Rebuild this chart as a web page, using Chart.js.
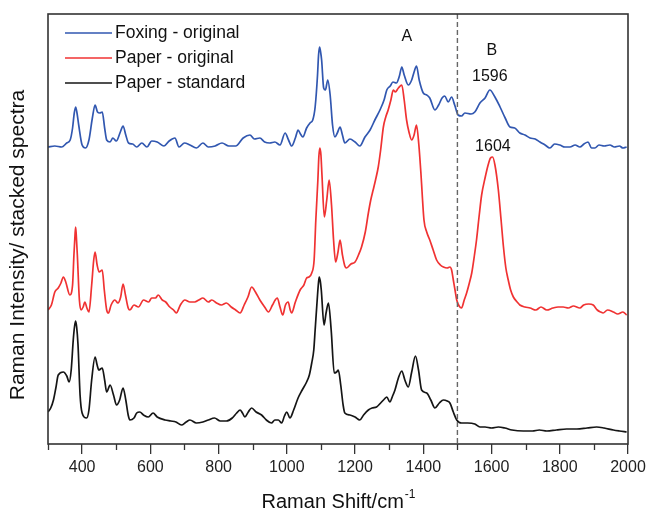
<!DOCTYPE html>
<html>
<head>
<meta charset="utf-8">
<script src="https://cdn.jsdelivr.net/npm/chart.js@4.4.1/dist/chart.umd.min.js"></script>
<style>
  body { margin: 0; background: #fff; }
  #wrap { width: 646px; height: 511px; }
</style>
</head>
<body>
<div id="wrap"><canvas id="raman" width="646" height="511"></canvas></div>
<script>
// Raman shift (cm-1) and intensity (arbitrary, stacked)
const shiftFoxing = [300,320,340,355,365,372,377,381,385,390,400,410,420,430,438,445,452,459,466,472,482,490,500,512,520,528,536,548,560,575,590,604,620,640,655,672,684,700,716,735,754,770,790,810,830,850,872,892,905,921,935,950,965,980,995,1005,1014,1025,1033,1040,1047,1058,1068,1076,1083,1090,1093,1096,1099,1102,1108,1113,1120,1127,1134,1141,1148,1156,1163,1170,1185,1200,1214,1229,1244,1258,1273,1285,1293,1303,1311,1321,1330,1337,1344,1356,1366,1373,1380,1388,1400,1410,1419,1434,1445,1455,1463,1473,1483,1492,1502,1512,1522,1540,1551,1566,1581,1595,1610,1625,1640,1654,1668,1683,1698,1713,1728,1742,1757,1771,1785,1800,1815,1830,1845,1859,1871,1883,1893,1903,1915,1930,1947,1960,1975,1985,1996];
const foxingOriginal = [297,298,297,301,304,316,331,337,331,319,299,296,304,326,339,332,331,332,316,304,302,306,303,312,318,309,301,300,297,301,297,303,302,298,303,306,297,301,299,296,301,297,298,301,298,298,306,309,305,306,302,301,302,299,311,304,298,306,314,310,307,316,321,324,337,369,389,397,392,384,356,354,364,349,319,307,311,317,309,301,305,302,298,307,314,324,334,344,354,358,362,361,368,377,369,359,364,372,378,364,351,349,346,334,339,346,348,342,347,339,329,328,331,330,332,341,346,354,347,337,326,317,316,311,309,306,305,302,299,296,300,299,297,297,299,297,300,302,296,296,299,298,299,297,298,296,297];

const shiftPaper = [300,310,320,330,338,345,352,364,372,376,379,381,383,386,392,397,403,408,414,420,428,434,438,444,450,459,465,472,477,485,496,505,513,520,527,535,540,552,565,580,595,604,615,623,635,645,657,668,676,688,701,716,730,742,754,770,780,794,808,823,837,850,863,875,886,897,908,921,935,946,958,966,972,980,988,996,1004,1010,1014,1025,1039,1050,1058,1065,1073,1080,1085,1091,1094,1097,1100,1103,1110,1117,1124,1131,1137,1143,1150,1156,1163,1170,1175,1188,1200,1210,1219,1230,1239,1246,1253,1260,1268,1275,1283,1290,1297,1305,1312,1318,1327,1337,1344,1351,1358,1366,1373,1380,1387,1393,1402,1410,1419,1429,1439,1450,1459,1470,1478,1483,1488,1493,1498,1505,1512,1520,1527,1535,1542,1550,1556,1564,1571,1581,1590,1597,1603,1610,1620,1628,1635,1642,1649,1656,1664,1675,1683,1698,1713,1730,1745,1762,1780,1795,1810,1825,1840,1859,1870,1885,1898,1910,1920,1927,1940,1957,1970,1985,1996];
const paperOriginal = [134,139,152,156,161,167,162,149,159,189,208,217,208,189,144,134,137,142,136,132,159,184,192,179,172,174,154,134,131,139,144,141,147,160,149,136,134,139,137,144,142,146,146,149,144,142,137,134,131,139,144,142,142,144,146,142,144,141,139,141,137,134,131,139,147,157,152,144,137,132,139,144,146,137,129,139,142,134,131,142,154,159,166,167,171,184,224,264,288,296,289,269,227,244,264,239,204,182,192,204,189,178,176,180,182,189,197,212,231,244,254,264,277,294,317,327,334,344,354,352,356,359,344,324,312,304,309,319,299,271,224,212,204,194,184,179,177,176,177,174,164,154,144,138,136,144,151,161,171,189,204,229,249,266,279,286,287,279,254,224,197,176,164,154,147,142,139,137,136,134,137,134,136,137,137,136,138,136,139,140,139,134,132,131,134,132,130,132,129];

const shiftStandard = [300,308,316,323,330,345,355,362,368,374,378,381,384,388,394,400,413,420,428,438,444,449,459,466,472,482,492,501,510,520,528,535,540,552,560,569,580,594,608,620,643,660,675,691,705,716,735,754,770,788,805,823,840,853,863,870,877,887,897,910,926,940,955,965,975,985,993,1000,1009,1020,1033,1045,1058,1066,1073,1079,1083,1090,1093,1095,1098,1101,1109,1115,1122,1130,1139,1146,1151,1158,1165,1170,1185,1200,1214,1225,1239,1250,1263,1275,1286,1293,1302,1310,1317,1327,1337,1346,1356,1366,1377,1386,1395,1410,1422,1434,1447,1459,1470,1478,1488,1498,1512,1530,1551,1566,1581,1600,1620,1639,1660,1693,1720,1740,1762,1790,1820,1850,1880,1908,1930,1957,1975,1996];
const paperStandard = [32,36,44,56,69,72,68,62,74,104,118,123,117,99,49,31,26,34,64,87,79,74,76,64,52,59,49,39,44,56,44,29,24,26,31,32,29,27,31,27,24,23,22,19,22,24,21,22,24,26,23,23,26,31,34,31,27,32,36,32,29,24,21,24,24,21,28,32,26,34,46,54,62,69,81,94,114,149,162,167,163,154,119,131,141,114,71,72,74,59,39,31,29,27,24,29,34,36,37,41,45,47,42,48,54,66,73,64,57,72,88,74,54,51,44,36,41,44,43,41,32,24,21,21,20,17,17,16,17,16,14,13,13,14,13,14,15,15,16,17,16,14,13,12];

const seriesNames = ['Foxing - original', 'Paper - original', 'Paper - standard'];
const seriesColors = ['#3157b0', '#f03232', '#151515'];
const majorTicks = [400, 600, 800, 1000, 1200, 1400, 1600, 1800, 2000];
const minorTicks = [300, 500, 700, 900, 1100, 1300, 1500, 1700, 1900];
const markerLine = 1500;
// peak labels: [text, shift, intensity]
const peakLabels = [['A', 1352, 407], ['B', 1601, 393], ['1596', 1595, 367], ['1604', 1604, 297]];

const FONT = '"Liberation Sans", Arial, Helvetica, sans-serif';

function toPoints(xs, ys) {
  return xs.map((x, i) => ({ x: x, y: ys[i] }));
}

// frame, minor ticks, marker line, legend, labels and axis titles
const decorations = {
  id: 'decorations',
  afterDatasetsDraw(chart) {
    const ctx = chart.ctx;
    const area = chart.chartArea;
    const xs = chart.scales.x;
    const ys = chart.scales.y;

    ctx.save();
    // dashed line at 1500
    const mx = xs.getPixelForValue(markerLine);
    ctx.strokeStyle = '#666';
    ctx.lineWidth = 1.4;
    ctx.setLineDash([5, 3]);
    ctx.beginPath();
    ctx.moveTo(mx, area.top);
    ctx.lineTo(mx, area.bottom);
    ctx.stroke();
    ctx.setLineDash([]);

    // frame
    ctx.strokeStyle = '#333';
    ctx.lineWidth = 1.6;
    ctx.strokeRect(area.left, area.top, area.right - area.left, area.bottom - area.top);

    // minor ticks
    ctx.lineWidth = 1.3;
    minorTicks.forEach(v => {
      const px = Math.round(xs.getPixelForValue(v)) + 0.5;
      ctx.beginPath();
      ctx.moveTo(px, area.bottom);
      ctx.lineTo(px, area.bottom + 6);
      ctx.stroke();
    });

    // legend
    ctx.font = '17.5px ' + FONT;
    ctx.textBaseline = 'middle';
    ctx.textAlign = 'left';
    seriesNames.forEach((name, i) => {
      const y = area.top + 19 + i * 25;
      ctx.strokeStyle = seriesColors[i];
      ctx.lineWidth = 1.6;
      ctx.beginPath();
      ctx.moveTo(area.left + 17, y);
      ctx.lineTo(area.left + 64, y);
      ctx.stroke();
      ctx.fillStyle = '#111';
      ctx.fillText(name, area.left + 67, y);
    });

    // peak labels
    ctx.font = '16px ' + FONT;
    ctx.textAlign = 'center';
    peakLabels.forEach(([t, x, y]) => {
      ctx.fillText(t, xs.getPixelForValue(x), ys.getPixelForValue(y));
    });

    // x title with superscript
    ctx.fillStyle = '#111';
    ctx.textBaseline = 'alphabetic';
    const main = 'Raman Shift/cm';
    ctx.font = '12px ' + FONT;
    const supW = ctx.measureText('-1').width;
    ctx.font = '20px ' + FONT;
    const mainW = ctx.measureText(main).width;
    const cx = (area.left + area.right) / 2;
    const startX = cx - (mainW + supW) / 2;
    ctx.textAlign = 'left';
    ctx.fillText(main, startX, 508);
    ctx.font = '12px ' + FONT;
    ctx.fillText('-1', startX + mainW + 1, 498);

    // y title
    ctx.font = '21px ' + FONT;
    ctx.textAlign = 'center';
    ctx.textBaseline = 'middle';
    ctx.translate(18, 245);
    ctx.rotate(-Math.PI / 2);
    ctx.fillText('Raman Intensity/ stacked spectra', 0, 0);
    ctx.restore();
  }
};

const datasets = [
  toPoints(shiftFoxing, foxingOriginal),
  toPoints(shiftPaper, paperOriginal),
  toPoints(shiftStandard, paperStandard)
].map((pts, i) => ({
  label: seriesNames[i],
  data: pts,
  borderColor: seriesColors[i],
  borderWidth: 1.7,
  pointRadius: 0,
  cubicInterpolationMode: 'monotone',
  fill: false
}));

new Chart(document.getElementById('raman'), {
  type: 'line',
  data: { datasets: datasets },
  options: {
    responsive: false,
    animation: false,
    devicePixelRatio: 1,
    layout: { padding: { left: 48, right: 18, top: 14, bottom: 0 } },
    plugins: {
      legend: { display: false },
      tooltip: { enabled: false }
    },
    scales: {
      x: {
        type: 'linear',
        min: 300,
        max: 2000,
        afterBuildTicks: (axis) => { axis.ticks = majorTicks.map(v => ({ value: v })); },
        afterFit: (axis) => {
          axis.height = 67;
          axis.paddingLeft = 0;
          axis.paddingRight = 0;
        },
        grid: { drawOnChartArea: false, drawTicks: true, tickLength: 10, color: '#333', lineWidth: 1.3 },
        border: { display: false },
        ticks: {
          color: '#222',
          padding: 4,
          maxRotation: 0,
          font: { size: 16, family: FONT },
          callback: (v) => String(v)
        }
      },
      y: {
        display: false,
        min: 0,
        max: 430
      }
    }
  },
  plugins: [decorations]
});
</script>
</body>
</html>
